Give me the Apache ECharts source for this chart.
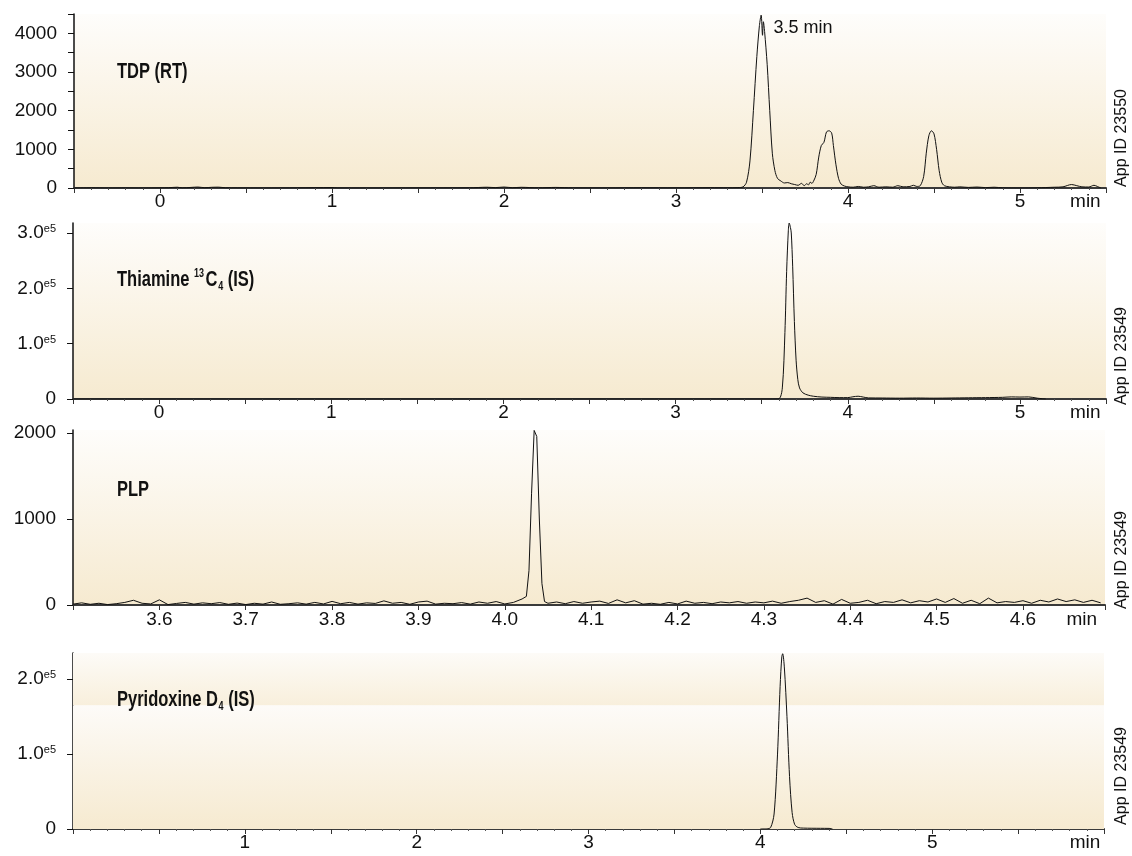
<!DOCTYPE html>
<html>
<head>
<meta charset="utf-8">
<script src="https://cdn.jsdelivr.net/npm/echarts@6/dist/echarts.min.js"></script>
<style>html,body{margin:0;padding:0;background:#fff}#c{width:1132px;height:856px}</style>
</head>
<body>
<div id="c"></div>
<script>
// ---------- DATA ----------
const tdpTime = [-0.5,-0.4,-0.3,-0.2,-0.1,0.0,0.05,0.1,0.13,0.18,0.22,0.26,0.3,0.34,0.38,0.45,0.6,0.8,1.0,1.03,1.2,1.5,1.8,1.9,1.95,2.0,2.05,2.1,2.2,2.3,2.4,2.6,2.8,3.0,3.2,3.3,3.36,3.39,3.41,3.43,3.45,3.47,3.485,3.495,3.503,3.508,3.515,3.53,3.545,3.56,3.575,3.59,3.61,3.63,3.65,3.67,3.69,3.71,3.73,3.745,3.76,3.77,3.78,3.79,3.80,3.815,3.83,3.845,3.86,3.875,3.89,3.905,3.915,3.93,3.945,3.96,3.98,4.0,4.03,4.06,4.09,4.12,4.15,4.18,4.22,4.26,4.29,4.32,4.36,4.38,4.40,4.42,4.44,4.455,4.47,4.485,4.50,4.515,4.53,4.545,4.56,4.59,4.62,4.65,4.7,4.75,4.8,4.85,4.9,5.0,5.1,5.2,5.25,5.3,5.33,5.36,5.4,5.43,5.45,5.47];
const tdpSignal = [0,5,0,3,0,4,8,20,5,15,25,8,18,22,6,3,0,4,12,2,0,3,5,20,10,25,8,18,5,15,4,2,6,3,8,5,10,30,150,700,2000,3400,4200,4470,3950,4300,4050,3200,2000,900,450,250,180,130,140,110,90,70,120,60,110,80,150,120,180,350,800,1100,1180,1450,1480,1420,1100,600,250,100,50,30,20,40,20,30,60,20,30,20,60,30,40,70,40,60,300,900,1350,1480,1400,1000,450,150,60,30,20,30,15,25,10,20,5,0,5,20,30,90,60,30,25,70,40,0];

const thiTime = [-0.5,3.55,3.6,3.62,3.635,3.645,3.655,3.66,3.667,3.672,3.68,3.69,3.70,3.71,3.72,3.74,3.77,3.8,3.85,3.9,3.95,4.0,4.03,4.06,4.09,4.12,4.2,4.3,4.4,4.5,4.6,4.7,4.8,4.9,4.95,5.0,5.05,5.1,5.15];
const thiSignal = [0,0,500,20000,120000,230000,305000,318000,310000,300000,240000,140000,70000,35000,20000,11000,7000,5000,3500,3000,2500,2500,4000,5000,3500,2000,1800,1500,1800,1500,1800,2200,2500,3000,3800,3500,3800,1500,0];

const plpTime = [3.50,3.51,3.52,3.53,3.54,3.55,3.56,3.57,3.58,3.59,3.60,3.61,3.62,3.63,3.64,3.65,3.66,3.67,3.68,3.69,3.70,3.71,3.72,3.73,3.74,3.75,3.76,3.77,3.78,3.79,3.80,3.81,3.82,3.83,3.84,3.85,3.86,3.87,3.88,3.89,3.90,3.91,3.92,3.93,3.94,3.95,3.96,3.97,3.98,3.99,4.00,4.01,4.02,4.025,4.028,4.031,4.034,4.037,4.040,4.043,4.046,4.05,4.06,4.07,4.08,4.09,4.10,4.11,4.12,4.13,4.14,4.15,4.16,4.17,4.18,4.19,4.20,4.21,4.22,4.23,4.24,4.25,4.26,4.27,4.28,4.29,4.30,4.31,4.32,4.33,4.34,4.35,4.36,4.37,4.38,4.39,4.40,4.41,4.42,4.43,4.44,4.45,4.46,4.47,4.48,4.49,4.50,4.51,4.52,4.53,4.54,4.55,4.56,4.57,4.58,4.59,4.60,4.61,4.62,4.63,4.64,4.65,4.66,4.67,4.68,4.69];
const plpSignal = [10,25,8,20,5,15,30,55,20,12,60,5,18,30,10,25,15,28,8,22,5,20,10,35,8,15,25,10,30,12,42,15,30,10,25,18,48,20,30,8,35,45,10,20,15,28,10,35,20,40,12,30,70,100,400,1300,2030,1960,1000,250,40,20,35,15,40,20,35,45,18,60,25,50,10,20,8,30,12,45,20,30,15,35,25,40,20,35,25,45,20,40,55,80,30,50,10,65,20,30,55,15,40,30,60,25,50,35,70,30,75,20,55,15,80,25,40,30,50,20,55,35,70,40,60,30,55,25];

const pyrTime = [4.0,4.04,4.06,4.08,4.10,4.115,4.125,4.13,4.14,4.155,4.17,4.185,4.2,4.22,4.25,4.3,4.35,4.4,4.42];
const pyrSignal = [0,300,2000,20000,100000,190000,230000,234000,215000,150000,70000,22000,6000,2000,1200,1000,900,800,0];

const titles = ['{b|TDP (RT)}', '{b|Thiamine }{sup|13}{b|C}{sub|4}{b| (IS)}', '{b|PLP}', '{b|Pyridoxine D}{sub|4}{b| (IS)}'];
const appIds = ['App ID 23550', 'App ID 23549', 'App ID 23549', 'App ID 23549'];
const xLabels1 = [0,1,2,3,4,5];
const xLabels3 = [3.6,3.7,3.8,3.9,4.0,4.1,4.2,4.3,4.4,4.5,4.6];
const xLabels4 = [1,2,3,4,5];
const minPos = [5.38, 5.38, 4.668, 5.89];
const yTicks1 = [0,500,1000,1500,2000,2500,3000,3500,4000,4500];
const yLabels1 = [0,1000,2000,3000,4000];
const yTicks2 = [0,100000,200000,300000];
const yTicks3 = [0,1000,2000];
const yTicks4 = [0,100000,200000];
const peakNote = {x: 3.555, y: 4130, text: '3.5 min'};

// ---------- STYLE ----------
const FONT = '"Liberation Sans", Arial, sans-serif';
const BEIGE = '#f6ead0';
const bgGrad = new echarts.graphic.LinearGradient(0,0,0,1,[{offset:0,color:'#fefdfb'},{offset:1,color:BEIGE}]);

const grids = [
  {left:74, top:14, right:26, height:174},
  {left:73, top:223, right:26, height:176},
  {left:73, top:430, right:27, height:175},
  {left:73, top:653, right:28, height:176}
].map((g,i)=>Object.assign({show: i!==3, backgroundColor: i!==3 ? bgGrad : 'transparent', borderWidth:0}, g));

function pair(t, v){ return t.map((x,i)=>[x, v[i]]); }

function xAxis(gi, min, max, interval, labels, minV, minor, decimals){
  return {
    type:'value', gridIndex:gi, min:min, max:max, interval:interval,
    axisLine:{show:true, onZero:false, lineStyle:{color:'#3a3a3a', width:2}},
    axisTick:{show:true, length:5, lineStyle:{color:'#333', width:1}},
    minorTick:{show:minor, splitNumber:5, length:2, lineStyle:{color:'#555'}},
    splitLine:{show:false},
    axisLabel:{
      customValues: labels.concat([minV]),
      margin: gi===2 ? 5 : 4,
      color:'#111', fontSize:19, fontFamily:FONT,
      formatter: v => Math.abs(v-minV)<1e-6 ? 'min' : (decimals ? v.toFixed(decimals) : String(Math.round(v)))
    }
  };
}

const richY = {
  n:{fontSize:19, fontFamily:FONT, color:'#111'},
  s:{fontSize:11, fontFamily:FONT, color:'#111', padding:[0,0,8,0]}
};
function yAxis(gi, max, ticks, labels, exp){
  return {
    type:'value', gridIndex:gi, min:0, max:max,
    axisLine:{show:true, onZero:false, lineStyle:{color:'#111', width:1.5}},
    axisTick:{show:true, length:6, customValues: ticks, lineStyle:{color:'#111'}},
    splitLine:{show:false},
    axisLabel:{
      customValues: labels, margin:17, color:'#111', fontSize:19, fontFamily:FONT,
      formatter: v => exp ? (v===0 ? '{n|0}' : '{n|' + (v/1e5).toFixed(1) + '}{s|e5}') : String(v),
      rich: richY
    }
  };
}

const lineStyle = {color:'#111', width:1};
const option = {
  animation:false,
  backgroundColor:'#ffffff',
  grid: grids,
  xAxis: [
    xAxis(0, -0.5, 5.5, 0.5, xLabels1, minPos[0], true, 0),
    xAxis(1, -0.5, 5.5, 0.5, xLabels1, minPos[1], true, 0),
    xAxis(2, 3.5, 4.695, 0.1, xLabels3, minPos[2], false, 1),
    xAxis(3, 0, 6, 0.5, xLabels4, minPos[3], true, 0)
  ],
  yAxis: [
    yAxis(0, 4500, yTicks1, yLabels1, false),
    yAxis(1, 318000, yTicks2, yTicks2, true),
    yAxis(2, 2035, yTicks3, yTicks3, false),
    yAxis(3, 235000, yTicks4, yTicks4, true)
  ],
  series: [
    {type:'line', xAxisIndex:0, yAxisIndex:0, data:pair(tdpTime, tdpSignal), showSymbol:false, smooth:0.3, lineStyle:lineStyle,
      markPoint:{symbol:'circle', symbolSize:0, silent:true,
        data:[{coord:[peakNote.x, peakNote.y], value:peakNote.text}],
        label:{show:true, position:'right', distance:2, formatter:peakNote.text, color:'#111', fontSize:18, fontFamily:FONT}}},
    {type:'line', xAxisIndex:1, yAxisIndex:1, data:pair(thiTime, thiSignal), showSymbol:false, smooth:0.3, lineStyle:lineStyle},
    {type:'line', xAxisIndex:2, yAxisIndex:2, data:pair(plpTime, plpSignal), showSymbol:false, smooth:false, lineStyle:lineStyle},
    {type:'line', xAxisIndex:3, yAxisIndex:3, data:pair(pyrTime, pyrSignal), showSymbol:false, smooth:0.3, lineStyle:lineStyle,
      markArea:{silent:true, data:[
        [{yAxis:165000, itemStyle:{color:new echarts.graphic.LinearGradient(0,0,0,1,[{offset:0,color:'#fdfbf7'},{offset:1,color:'#f8efdc'}])}}, {yAxis:235000}],
        [{yAxis:0, itemStyle:{color:new echarts.graphic.LinearGradient(0,0,0,1,[{offset:0,color:'#fdfbf8'},{offset:1,color:BEIGE}])}}, {yAxis:165000}]
      ]}}
  ],
  graphic: appIds.map((t,i)=>({
    type:'text', x:1122, y:[138,356,560,776][i], rotation:Math.PI/2,
    style:{text:t, align:'center', verticalAlign:'middle', font:'16px ' + FONT, fill:'#111'}
  })).concat(titles.map((t,i)=>({
    type:'text', x:117, y:[72,280,490,700][i], scaleX:0.75, z:10,
    style:{text:t, align:'left', verticalAlign:'middle', rich:{
      b:{fontFamily:FONT, fontWeight:'bold', fontSize:22, fill:'#111'},
      sup:{fontFamily:FONT, fontWeight:'bold', fontSize:12, fill:'#111', padding:[0,2,12,0]},
      sub:{fontFamily:FONT, fontWeight:'bold', fontSize:12, fill:'#111', padding:[13,0,0,1]}
    }}
  })))
};

const chart = echarts.init(document.getElementById('c'), null, {renderer:'canvas'});
chart.setOption(option);
</script>
</body>
</html>
